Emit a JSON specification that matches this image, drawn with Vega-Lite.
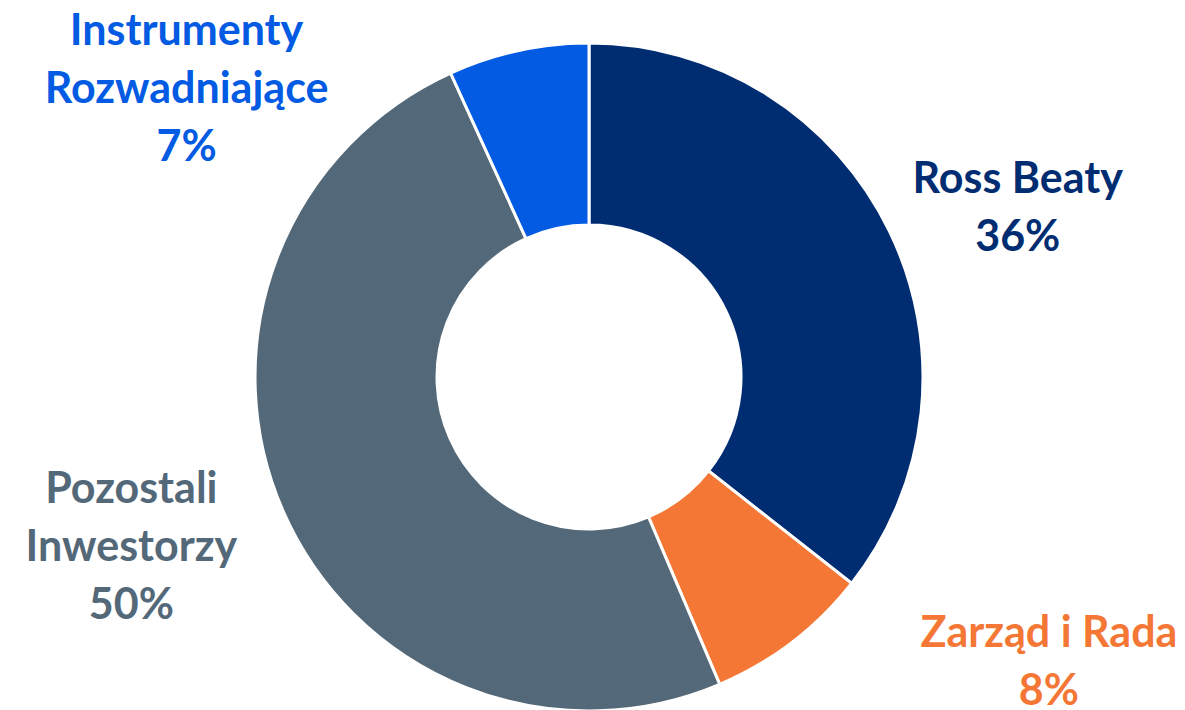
{
  "$schema": "https://vega.github.io/schema/vega-lite/v6.json",
  "autosize": "none",
  "width": 1178,
  "height": 666,
  "padding": {"left": 0, "top": 44, "right": 7, "bottom": 0},
  "background": "white",
  "config": {"view": {"stroke": null}},
  "data": {
    "values": [
      {"name": "Ross Beaty", "value": 35.6, "order": 1},
      {"name": "Zarząd i Rada", "value": 8.0, "order": 2},
      {"name": "Pozostali\nInwestorzy", "value": 49.6, "order": 3},
      {"name": "Instrumenty\nRozwadniające", "value": 6.8, "order": 4}
    ]
  },
  "transform": [
    {"window": [{"op": "sum", "field": "value", "as": "cum"}], "sort": [{"field": "order"}], "frame": [null, 0]},
    {"calculate": "datum.cum - datum.value / 2", "as": "mid"},
    {"calculate": "datum.name + '\\n' + format(datum.value, '.0f') + '%'", "as": "label"}
  ],
  "layer": [
    {
      "mark": {"type": "arc", "outerRadius": 334, "innerRadius": 152, "stroke": "white", "strokeWidth": 3},
      "encoding": {
        "theta": {"field": "value", "type": "quantitative", "stack": true, "scale": {"domain": [0, 100]}},
        "order": {"field": "order", "type": "quantitative"},
        "color": {
          "field": "name", "type": "nominal", "legend": null,
          "scale": {
            "domain": ["Ross Beaty", "Zarząd i Rada", "Pozostali\nInwestorzy", "Instrumenty\nRozwadniające"],
            "range": ["#002D72", "#F47735", "#536878", "#025BE2"]
          }
        }
      }
    },
    {
      "transform": [{"filter": "datum.order == 1"}],
      "mark": {"type": "text", "font": "Lato", "fontWeight": "bold", "fontSize": 43, "lineHeight": 58, "lineBreak": "\n", "align": "center", "baseline": "alphabetic", "radius": 370, "dx": 96, "dy": -22},
      "encoding": {
        "theta": {"field": "mid", "type": "quantitative", "stack": null},
        "text": {"field": "label"},
        "color": {"field": "name", "type": "nominal", "legend": null}
      }
    },
    {
      "transform": [{"filter": "datum.order == 2"}],
      "mark": {"type": "text", "font": "Lato", "fontWeight": "bold", "fontSize": 43, "lineHeight": 58, "lineBreak": "\n", "align": "center", "baseline": "alphabetic", "radius": 370, "dx": 235, "dy": -24},
      "encoding": {
        "theta": {"field": "mid", "type": "quantitative", "stack": null},
        "text": {"field": "label"},
        "color": {"field": "name", "type": "nominal", "legend": null}
      }
    },
    {
      "transform": [{"filter": "datum.order == 3"}],
      "mark": {"type": "text", "font": "Lato", "fontWeight": "bold", "fontSize": 43, "lineHeight": 58, "lineBreak": "\n", "align": "center", "baseline": "alphabetic", "radius": 370, "dx": -119, "dy": -23},
      "encoding": {
        "theta": {"field": "mid", "type": "quantitative", "stack": null},
        "text": {"field": "label"},
        "color": {"field": "name", "type": "nominal", "legend": null}
      }
    },
    {
      "transform": [{"filter": "datum.order == 4"}],
      "mark": {"type": "text", "font": "Lato", "fontWeight": "bold", "fontSize": 43, "lineHeight": 58, "lineBreak": "\n", "align": "center", "baseline": "alphabetic", "radius": 370, "dx": -324, "dy": 30},
      "encoding": {
        "theta": {"field": "mid", "type": "quantitative", "stack": null},
        "text": {"field": "label"},
        "color": {"field": "name", "type": "nominal", "legend": null}
      }
    }
  ]
}
